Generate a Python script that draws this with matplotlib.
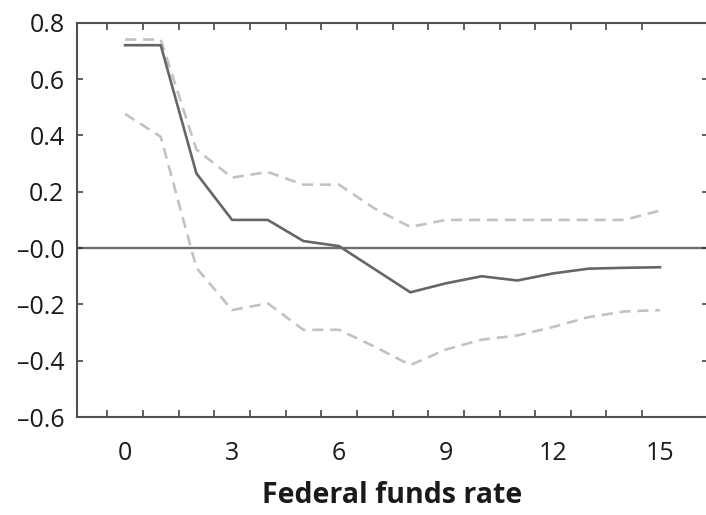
import matplotlib
matplotlib.use('Agg')
import matplotlib.pyplot as plt
import numpy as np

plt.rcParams['font.family'] = ['Open Sans', 'DejaVu Sans']

horizon = np.arange(16)
response = [0.72, 0.72, 0.265, 0.10, 0.10, 0.025, 0.007, -0.075,
            -0.157, -0.125, -0.10, -0.115, -0.09, -0.073, -0.07, -0.068]
upper = [0.74, 0.74, 0.35, 0.25, 0.27, 0.225, 0.225, 0.14,
         0.075, 0.10, 0.10, 0.10, 0.10, 0.10, 0.10, 0.133]
lower = [0.476, 0.395, -0.07, -0.22, -0.196, -0.29, -0.29, -0.35,
         -0.415, -0.36, -0.325, -0.31, -0.28, -0.245, -0.225, -0.22]

xlabels = [0, 3, 6, 9, 12, 15]
yticks = [0.8, 0.6, 0.4, 0.2, 0.0, -0.2, -0.4, -0.6]
ylabels = ['0.8', '0.6', '0.4', '0.2', '\u20130.0', '\u20130.2', '\u20130.4', '\u20130.6']

fig = plt.figure(figsize=(7.06, 5.15), dpi=100)
ax = fig.add_axes([0.109, 0.19, 0.894, 0.766])

ax.axhline(0, color='#6e6e6e', lw=1.7, zorder=1)
ax.plot(horizon, upper, color='#c2c2c2', lw=1.9, linestyle=(0, (4.2, 2.6)), zorder=2)
ax.plot(horizon, lower, color='#c2c2c2', lw=1.9, linestyle=(0, (4.2, 2.6)), zorder=2)
ax.plot(horizon, response, color='#666666', lw=1.9, zorder=3)

ax.set_xlim(-1.35, 16.35)
ax.set_ylim(-0.6, 0.8)

# tick marks sit between the periods, labels on the periods
ax.set_xticks(np.arange(-0.5, 15, 1.0))
ax.set_xticklabels([])
ax.set_xticks(xlabels, minor=True)
ax.set_xticklabels([str(v) for v in xlabels], minor=True)
ax.tick_params(axis='x', which='major', direction='in', length=5, width=1.1,
               color='#333333', top=True, bottom=True)
ax.tick_params(axis='x', which='minor', length=0, pad=17, labelsize=18,
               labelcolor='#1a1a1a')

ax.set_yticks(yticks)
ax.set_yticklabels(ylabels)
ax.tick_params(axis='y', direction='in', length=4, width=1.1, color='#333333',
               left=True, right=True, pad=9, labelsize=18, labelcolor='#1a1a1a')

for s in ax.spines.values():
    s.set_color('#505050')
    s.set_linewidth(1.5)

ax.set_xlabel('Federal funds rate', fontsize=20.5, fontweight='bold',
              color='#1a1a1a', labelpad=11)

fig.savefig('out.png', dpi=100)
